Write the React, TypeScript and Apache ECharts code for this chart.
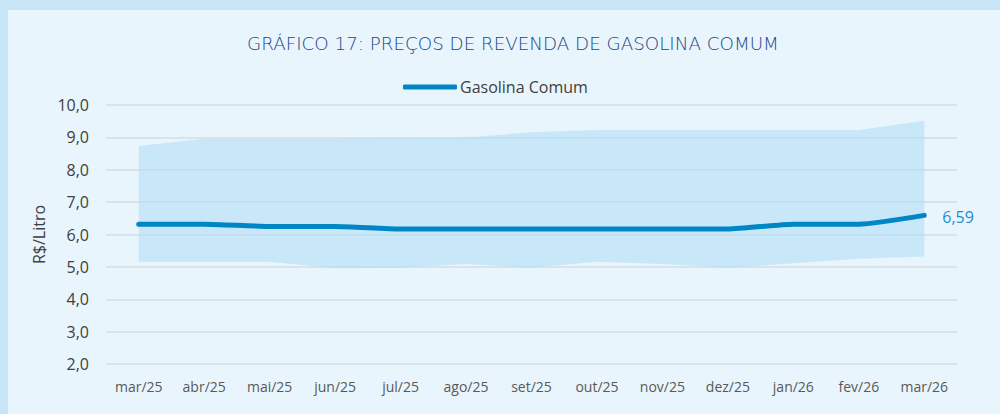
import React, { useEffect, useRef } from "react";
import * as echarts from "echarts";

const categories = ["mar/25", "abr/25", "mai/25", "jun/25", "jul/25", "ago/25", "set/25", "out/25", "nov/25", "dez/25", "jan/26", "fev/26", "mar/26"];
const gasolina = [6.32, 6.32, 6.25, 6.25, 6.17, 6.17, 6.17, 6.17, 6.17, 6.17, 6.32, 6.32, 6.59];
const precoMin = [5.16, 5.16, 5.16, 4.96, 4.97, 5.09, 4.97, 5.16, 5.09, 4.97, 5.11, 5.25, 5.32];
const precoMax = [8.73, 8.96, 8.96, 8.96, 8.97, 9.0, 9.16, 9.23, 9.23, 9.23, 9.23, 9.23, 9.51];

const fmt = (v: number, d: number) => v.toFixed(d).replace(".", ",");

export default function App() {
  const ref = useRef<HTMLDivElement>(null);
  useEffect(() => {
    if (!ref.current) return;
    const chart = echarts.init(ref.current, undefined, { renderer: "svg" });
    const font = "Open Sans";
    chart.setOption({
      animation: false,
      backgroundColor: "#e9f5fc",
      title: {
        text: "GRÁFICO 17: PREÇOS DE REVENDA DE GASOLINA COMUM",
        left: 239,
        top: 24,
        padding: 0,
        textStyle: { fontFamily: "DejaVu Sans", fontSize: 18.3, fontWeight: 200, color: "#1b4585" },
      },
      legend: {
        data: ["Gasolina Comum"],
        top: 69,
        left: 395,
        padding: 0,
        icon: "roundRect",
        itemWidth: 54,
        itemHeight: 5,
        textStyle: { fontFamily: font, fontSize: 16, color: "#404040", padding: [0, 0, 0, -2] },
      },
      grid: { left: 98, right: 43, top: 95, bottom: 50, containLabel: false },
      xAxis: {
        type: "category",
        data: categories,
        boundaryGap: true,
        axisLine: { show: false },
        axisTick: { show: false },
        axisLabel: { fontFamily: font, fontSize: 14, color: "#595959", margin: 15 },
      },
      yAxis: {
        type: "value",
        min: 2,
        max: 10,
        interval: 1,
        name: "R$/Litro",
        nameLocation: "middle",
        nameGap: 57,
        nameRotate: 90,
        nameTextStyle: { fontFamily: font, fontSize: 16, color: "#404040" },
        axisLine: { show: false },
        axisTick: { show: false },
        axisLabel: { fontFamily: font, fontSize: 16, color: "#404040", margin: 17, formatter: (v: number) => fmt(v, 1) },
        splitLine: { lineStyle: { color: "#d5dde2", width: 1.5 } },
      },
      series: [
        {
          name: "min",
          type: "line",
          stack: "band",
          data: precoMin,
          symbol: "none",
          lineStyle: { opacity: 0 },
          silent: true,
        },
        {
          name: "faixa",
          type: "line",
          stack: "band",
          data: precoMax.map((v, i) => +(v - precoMin[i]).toFixed(2)),
          symbol: "none",
          lineStyle: { opacity: 0 },
          areaStyle: { color: "rgba(168,219,246,0.5)", opacity: 1 },
          silent: true,
        },
        {
          name: "Gasolina Comum",
          type: "line",
          data: gasolina,
          symbol: "none",
          smooth: 0.2,
          lineStyle: { color: "#0085c5", width: 5, cap: "round", join: "round" },
          itemStyle: { color: "#0085c5" },
          endLabel: {
            show: true,
            formatter: (p: any) => fmt(p.value, 2),
            fontFamily: font,
            fontSize: 16,
            color: "#1a8dd0",
            distance: 18,
            offset: [0, 2],
          },
          z: 5,
        },
      ],
    });
    return () => chart.dispose();
  }, []);
  return (
    <div style={{ position: "fixed", left: 0, top: 0, width: 1000, height: 414, background: "#c7e5f6" }}>
      <div ref={ref} style={{ position: "absolute", left: 8, top: 10, width: 992, height: 404 }} />
    </div>
  );
}
